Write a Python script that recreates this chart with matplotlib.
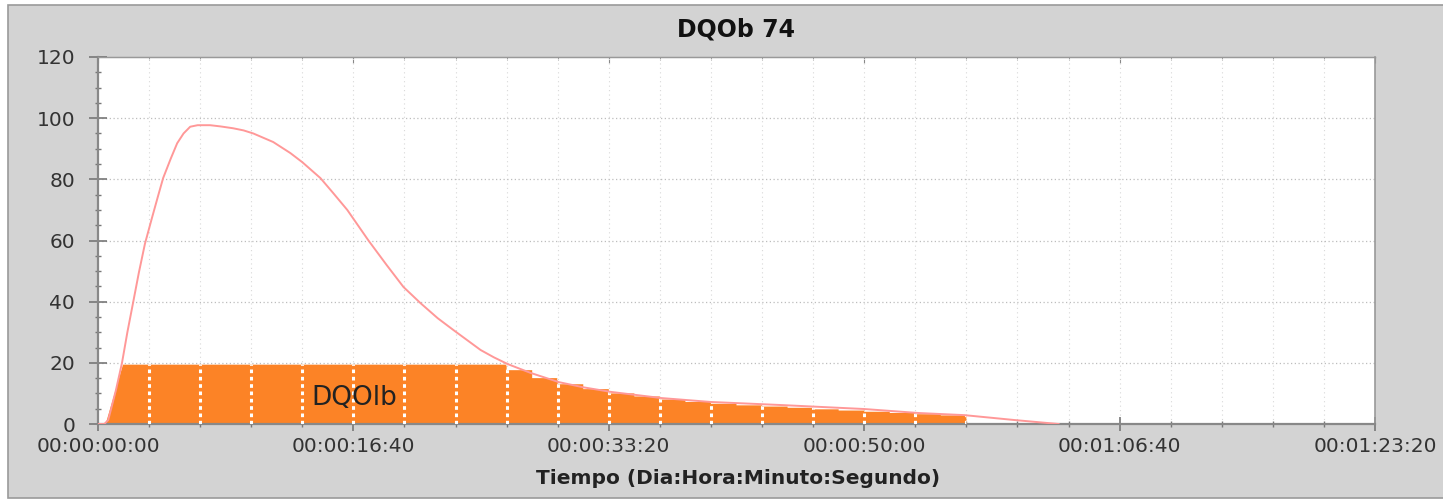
import numpy as np
import matplotlib
matplotlib.use('Agg')
import matplotlib.pyplot as plt
from matplotlib.patches import Rectangle
from matplotlib.ticker import MultipleLocator, FuncFormatter

# pink curve (time in s, value)
curve_t = [0, 25, 40, 70, 94, 115, 137, 160, 184, 212, 235, 255, 285, 310, 335, 361,
           390, 439, 480, 529, 570, 608, 686, 753, 800, 871, 920, 976, 1059, 1130,
           1196, 1263, 1330, 1392, 1498, 1550, 1604, 1694, 1804, 1900, 2008, 2204,
           2400, 2675, 3000, 3212, 3392, 3588, 3761]
curve_v = [0, 0, 1.3, 11, 20, 30, 39.5, 49.5, 59, 67.6, 74.5, 80.4, 86.8, 91.8, 95.0,
           97.2, 97.7, 97.7, 97.3, 96.7, 96.0, 95, 92.2, 88.6, 85.6, 80.4, 75.6, 70,
           60, 52, 44.8, 39.5, 34.6, 30.7, 24.2, 21.8, 19.6, 16.7, 13.7, 12.0, 10.5,
           8.5, 7.2, 6.2, 4.9, 3.6, 2.9, 1.3, 0]

# orange area: ramp, then steps
ramp_t = [30, 98]
ramp_v = [0, 19.4]
step_edges = [98, 1600, 1700, 1800, 1900, 2000, 2100, 2200, 2300, 2400, 2500,
              2600, 2700, 2800, 2900, 3000, 3100, 3200, 3300, 3400]
step_vals = [19.4, 17.6, 15.0, 13.0, 11.4, 10.0, 9.0, 8.0, 7.2, 6.6, 6.1, 5.7,
             5.3, 4.8, 4.4, 4.0, 3.6, 3.2, 2.8]

def fmt_time(s, pos=None):
    s = int(round(s))
    d, r = divmod(s, 86400)
    h, r = divmod(r, 3600)
    m, sec = divmod(r, 60)
    return f'{d:02d}:{h:02d}:{m:02d}:{sec:02d}'

fig = plt.figure(figsize=(14.43, 5.0), dpi=100)
fig.patch.set_facecolor('white')
fig.patches.append(Rectangle((8/1443, 2/500), 1.0, 493/500, transform=fig.transFigure,
                             facecolor='#d3d3d3', edgecolor='#9a9a9a', lw=1.2, zorder=-10))

ax = fig.add_axes([98/1443, 1-424/500, (1375-98)/1443, (424-57)/500])
ax.set_facecolor('white')

# orange polygon
px = list(ramp_t)
py = list(ramp_v)
for i, v in enumerate(step_vals):
    px += [step_edges[i], step_edges[i+1]]
    py += [v, v]
px.append(step_edges[-1])
py.append(0)
poly = ax.fill(px, py, color='#fc8326', lw=0, zorder=2)[0]

# grid
for gx in np.arange(200, 5000, 200):
    ax.axvline(gx, color='#d8d8d8', lw=0.8, ls=(0, (1, 3)), zorder=1)
for gy in range(20, 120, 20):
    ax.axhline(gy, color='#bdbdbd', lw=0.9, ls=(0, (1, 2)), zorder=1)
wl = ax.vlines(np.arange(200, 3600, 200), 0, 25, colors='white', lw=2.2,
               linestyles=(0, (1.2, 1.2)), zorder=3)
wl.set_clip_path(poly)

ax.plot(curve_t, curve_v, color='#ff9898', lw=1.4, zorder=4, solid_joinstyle='round')

ax.text(1004, 8.5, 'DQOlb', fontsize=19, color='#222222', ha='center', va='center', zorder=5)

ax.set_xlim(0, 5000)
ax.set_ylim(0, 120)
ax.xaxis.set_major_locator(MultipleLocator(1000))
ax.xaxis.set_minor_locator(MultipleLocator(200))
ax.yaxis.set_major_locator(MultipleLocator(20))
ax.yaxis.set_minor_locator(MultipleLocator(5))
ax.xaxis.set_major_formatter(FuncFormatter(fmt_time))

ax.tick_params(axis='x', which='major', direction='inout', length=10, width=1.2,
               color='#777777', labelsize=14.5, labelcolor='#333333', pad=4)
ax.tick_params(axis='y', which='major', direction='inout', length=13, width=1.2,
               color='#777777', labelsize=14.5, labelcolor='#333333', pad=10)
ax.tick_params(which='minor', direction='inout', length=4.5, width=1.0, color='#777777')

top = ax.secondary_xaxis('top')
top.xaxis.set_major_locator(MultipleLocator(1000))
top.xaxis.set_minor_locator(MultipleLocator(200))
top.tick_params(which='major', direction='in', length=4, color='#888888', labeltop=False)
top.tick_params(which='minor', direction='in', length=2.5, color='#888888')
top.spines['top'].set_color('#999999')
top.spines['top'].set_linewidth(1.0)

ax.spines['left'].set_color('#888888')
ax.spines['left'].set_linewidth(1.6)
ax.spines['bottom'].set_color('#888888')
ax.spines['bottom'].set_linewidth(1.6)
ax.spines['right'].set_color('#999999')
ax.spines['right'].set_linewidth(1.2)
ax.spines['top'].set_color('#999999')

fig.text(736/1443, 1-30/500, 'DQOb 74', fontsize=17, fontweight='bold',
         color='#111111', ha='center', va='center')
fig.text(738/1443, 1-478/500, 'Tiempo (Dia:Hora:Minuto:Segundo)', fontsize=14.5,
         fontweight='bold', color='#222222', ha='center', va='center')

fig.savefig('out.png', dpi=100)
